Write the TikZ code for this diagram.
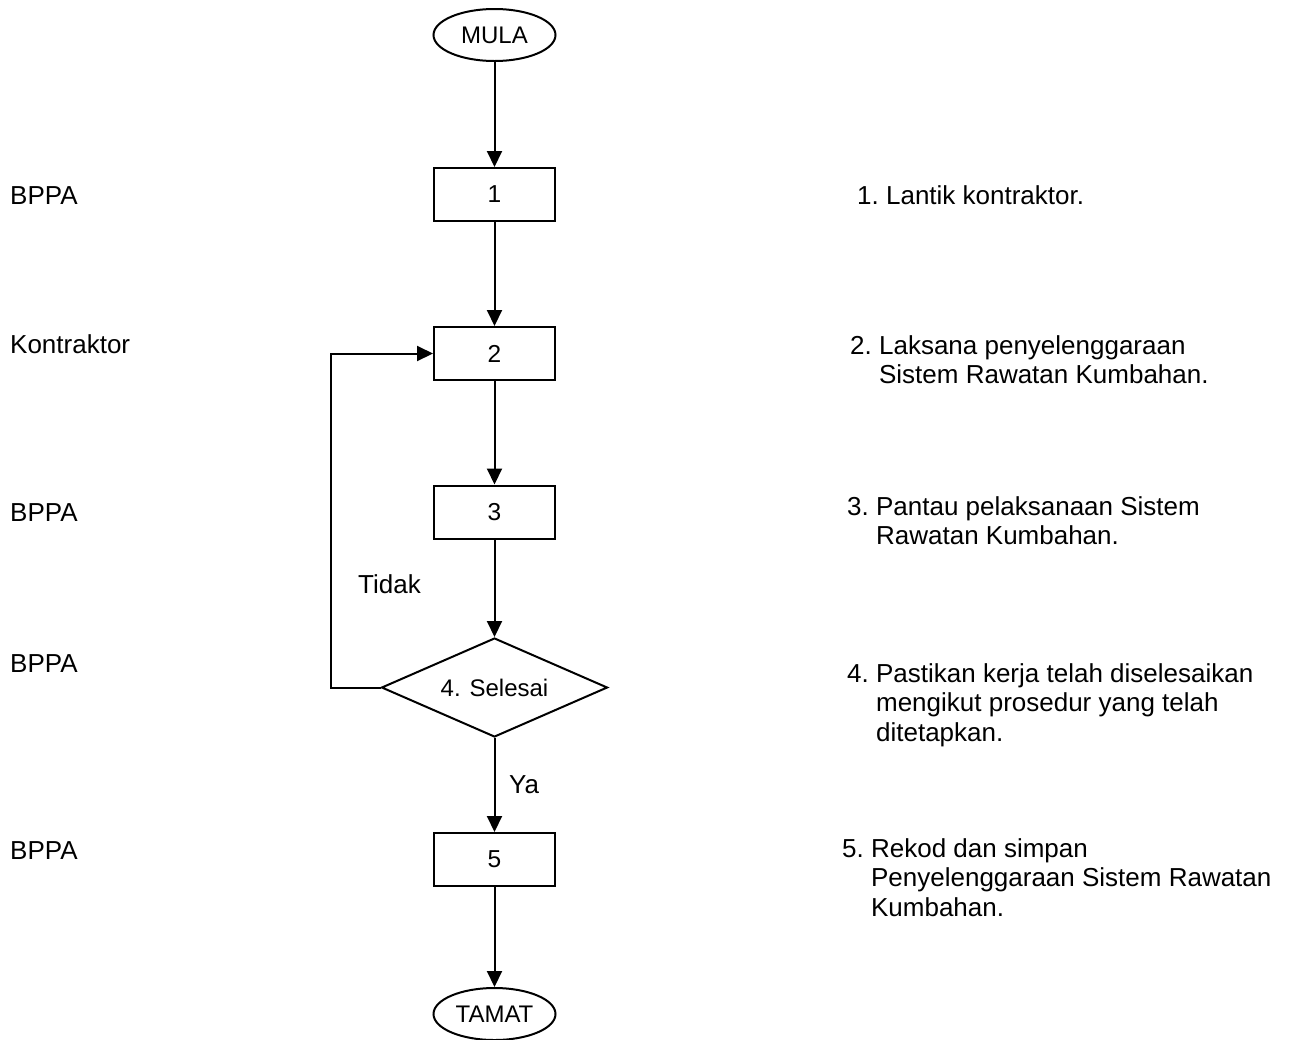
\documentclass[tikz,border=0pt]{standalone}
\usepackage{fontspec}
\setmainfont{Liberation Sans}
\usetikzlibrary{shapes.geometric,arrows.meta}

\begin{document}
\begin{tikzpicture}[x=1pt,y=-1pt,
  kotak/.style={draw, line width=2pt, minimum width=121pt, minimum height=53pt, inner sep=0pt, font=\fontsize{24.5}{26}\selectfont},
  hujung/.style={draw, ellipse, line width=2pt, minimum width=122pt, minimum height=52pt, inner sep=0pt, font=\fontsize{24}{26}\selectfont},
  semak/.style={draw, diamond, aspect=2.28, line width=2pt, minimum width=226pt, minimum height=99pt, inner sep=0pt, font=\fontsize{24}{26}\selectfont},
  aliran/.style={line width=2pt, -{Triangle[length=16pt,width=15pt]}},
  teks/.style={anchor=base west, inner sep=0pt, font=\fontsize{26}{29.5}\selectfont}
]
\useasboundingbox (0,0) rectangle (1295,1039);

\def\xc{494.5}
\def\xk{331}
\def\xl{10}

\node[hujung] (mula) at (\xc,35) {MULA};
\node[kotak] (b1) at (\xc,194.5) {1};
\node[kotak] (b2) at (\xc,353.5) {2};
\node[kotak] (b3) at (\xc,512) {3};
\node[semak] (dec) at (\xc,687.5) {4. Selesai};
\node[kotak] (b5) at (\xc,859.5) {5};
\node[hujung] (tamat) at (\xc,1014) {TAMAT};

\draw[aliran] (mula) -- (b1);
\draw[aliran] (b1) -- (b2);
\draw[aliran] (b2) -- (b3);
\draw[aliran] (b3) -- (dec);
\draw[aliran] (dec) -- (b5);
\draw[aliran] (b5) -- (tamat);

\coordinate (kiri) at (\xk,520);
\draw[aliran] (dec.west) -| (kiri) |- (b2.west);

\node[teks] (tidak) at (358,593) {Tidak};
\node[teks] (ya) at (509,793) {Ya};

\node[teks] (p1) at (\xl,204) {BPPA};
\node[teks] (p2) at (\xl,353) {Kontraktor};
\node[teks] (p3) at (\xl,521) {BPPA};
\node[teks] (p4) at (\xl,672) {BPPA};
\node[teks] (p5) at (\xl,859) {BPPA};

\node[teks] (k1) at (857,204) {1.\ Lantik kontraktor.};
\node[teks] (k2) at (850,354) {\begin{tabular}[t]{@{}l@{\ }l@{}}2.&Laksana penyelenggaraan\\&Sistem Rawatan Kumbahan.\end{tabular}};
\node[teks] (k3) at (847,515) {\begin{tabular}[t]{@{}l@{\ }l@{}}3.&Pantau pelaksanaan Sistem\\&Rawatan Kumbahan.\end{tabular}};
\node[teks] (k4) at (847,682) {\begin{tabular}[t]{@{}l@{\ }l@{}}4.&Pastikan kerja telah diselesaikan\\&mengikut prosedur yang telah\\&ditetapkan.\end{tabular}};
\node[teks] (k5) at (842,857) {\begin{tabular}[t]{@{}l@{\ }l@{}}5.&Rekod dan simpan\\&Penyelenggaraan Sistem Rawatan\\&Kumbahan.\end{tabular}};

\end{tikzpicture}
\end{document}
